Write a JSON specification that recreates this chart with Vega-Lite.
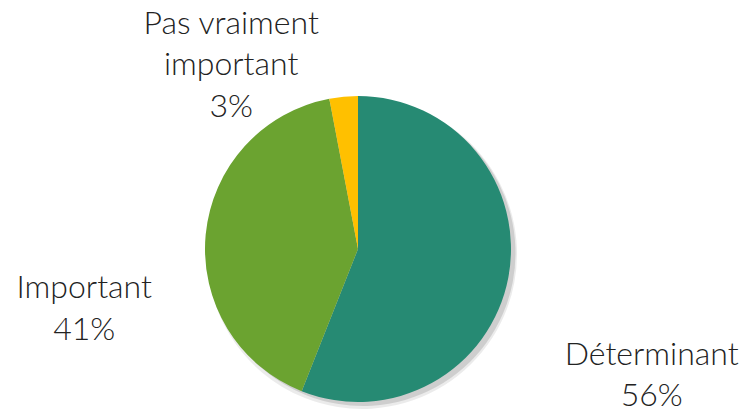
{
  "$schema": "https://vega.github.io/schema/vega-lite/v6.json",
  "width": 743,
  "height": 410,
  "autosize": "none",
  "padding": 0,
  "background": "white",
  "config": {"view": {"stroke": null}},
  "data": {
    "values": [
      {"categorie": "Déterminant", "libelle": "Déterminant", "part": 56, "rang": 1},
      {"categorie": "Important", "libelle": "Important", "part": 41, "rang": 2},
      {"categorie": "Pas vraiment important", "libelle": "Pas vraiment\nimportant", "part": 3, "rang": 3}
    ]
  },
  "transform": [
    {"stack": "part", "groupby": [], "sort": [{"field": "rang", "order": "ascending"}], "as": ["d0", "d1"]},
    {"calculate": "(datum.d0 + datum.d1) / 2", "as": "milieu"},
    {"calculate": "datum.libelle + '\\n' + datum.part + '%'", "as": "etiquette"}
  ],
  "layer": [
    {
      "mark": {"type": "arc", "radius": 155, "xOffset": -9.5, "yOffset": 49, "color": "#000", "opacity": 0.08},
      "encoding": {
        "theta": {"field": "d0", "type": "quantitative", "scale": {"domain": [0, 100]}},
        "theta2": {"field": "d1"}
      }
    },
    {
      "mark": {"type": "arc", "radius": 153, "xOffset": -9, "yOffset": 48, "color": "#000", "opacity": 0.12},
      "encoding": {
        "theta": {"field": "d0", "type": "quantitative", "scale": {"domain": [0, 100]}},
        "theta2": {"field": "d1"}
      }
    },
    {
      "mark": {"type": "arc", "radius": 153, "xOffset": -13.5, "yOffset": 44},
      "encoding": {
        "theta": {"field": "d0", "type": "quantitative", "scale": {"domain": [0, 100]}},
        "theta2": {"field": "d1"},
        "color": {
          "field": "categorie",
          "type": "nominal",
          "scale": {
            "domain": ["Déterminant", "Important", "Pas vraiment important"],
            "range": ["#268A73", "#6BA330", "#FFC000"]
          },
          "legend": null
        }
      }
    },
    {
      "transform": [{"filter": "datum.rang == 1"}],
      "mark": {"type": "text", "radius": 300, "xOffset": -13.5, "yOffset": 44, "dx": -1, "dy": 50, "font": "Lato", "fontWeight": 300, "fontSize": 32, "lineHeight": 41, "lineBreak": "\n", "align": "center", "baseline": "middle", "color": "#222222"},
      "encoding": {
        "theta": {"field": "milieu", "type": "quantitative", "scale": {"domain": [0, 100]}},
        "text": {"field": "etiquette"}
      }
    },
    {
      "transform": [{"filter": "datum.rang == 2"}],
      "mark": {"type": "text", "radius": 275, "xOffset": -13.5, "yOffset": 44, "dx": 0, "dy": 65, "font": "Lato", "fontWeight": 300, "fontSize": 32, "lineHeight": 41.5, "lineBreak": "\n", "align": "center", "baseline": "middle", "color": "#222222"},
      "encoding": {
        "theta": {"field": "milieu", "type": "quantitative", "scale": {"domain": [0, 100]}},
        "text": {"field": "etiquette"}
      }
    },
    {
      "transform": [{"filter": "datum.rang == 3"}],
      "mark": {"type": "text", "radius": 200, "xOffset": -13.5, "yOffset": 44, "dx": -108, "dy": -26, "font": "Lato", "fontWeight": 300, "fontSize": 32, "lineHeight": 41.5, "lineBreak": "\n", "align": "center", "baseline": "middle", "color": "#222222"},
      "encoding": {
        "theta": {"field": "milieu", "type": "quantitative", "scale": {"domain": [0, 100]}},
        "text": {"field": "etiquette"}
      }
    }
  ]
}
